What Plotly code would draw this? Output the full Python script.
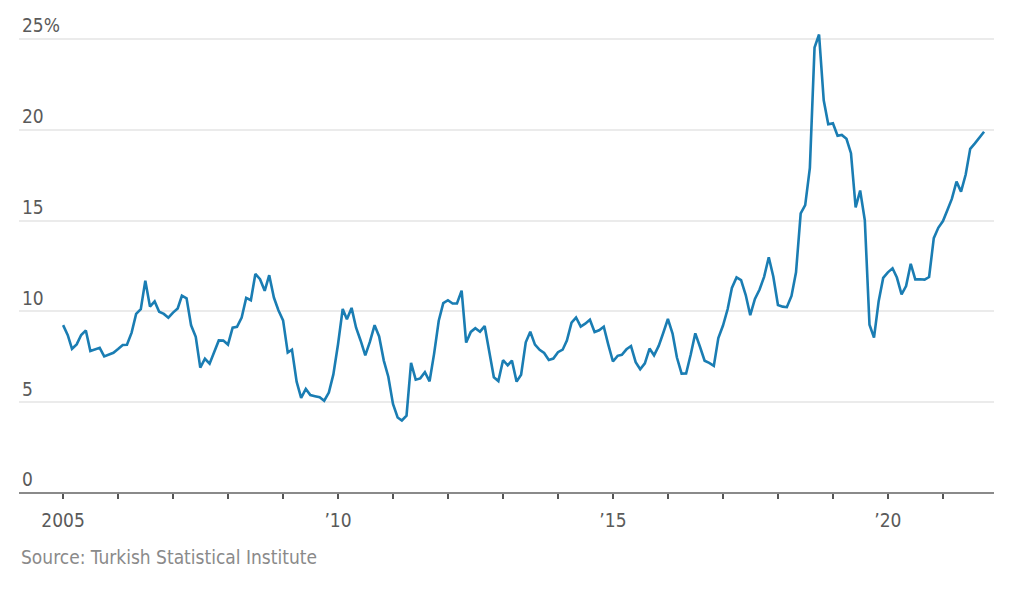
import plotly.graph_objects as go
import pandas as pd

# Annual consumer-price inflation, Turkey, monthly (percent), Jan 2005 - Oct 2021
inflation_2005 = [9.24, 8.69, 7.94, 8.18, 8.70, 8.95, 7.82, 7.91, 7.99, 7.52, 7.61, 7.72]
inflation_2006 = [7.93, 8.15, 8.16, 8.83, 9.86, 10.12, 11.69, 10.26, 10.55, 9.98, 9.86, 9.65]
inflation_2007 = [9.93, 10.16, 10.86, 10.72, 9.23, 8.60, 6.90, 7.39, 7.12, 7.70, 8.40, 8.39]
inflation_2008 = [8.17, 9.10, 9.15, 9.66, 10.74, 10.61, 12.06, 11.77, 11.13, 11.99, 10.76, 10.06]
inflation_2009 = [9.50, 7.73, 7.89, 6.13, 5.24, 5.73, 5.39, 5.33, 5.27, 5.08, 5.53, 6.53]
inflation_2010 = [8.19, 10.13, 9.56, 10.19, 9.10, 8.37, 7.58, 8.33, 9.24, 8.62, 7.29, 6.40]
inflation_2011 = [4.90, 4.16, 3.99, 4.26, 7.17, 6.24, 6.31, 6.65, 6.15, 7.66, 9.48, 10.45]
inflation_2012 = [10.61, 10.43, 10.43, 11.14, 8.28, 8.87, 9.07, 8.88, 9.19, 7.80, 6.37, 6.16]
inflation_2013 = [7.31, 7.03, 7.29, 6.13, 6.51, 8.30, 8.88, 8.17, 7.88, 7.71, 7.32, 7.40]
inflation_2014 = [7.75, 7.89, 8.39, 9.38, 9.66, 9.16, 9.32, 9.54, 8.86, 8.96, 9.15, 8.17]
inflation_2015 = [7.24, 7.55, 7.61, 7.91, 8.09, 7.20, 6.81, 7.14, 7.95, 7.58, 8.10, 8.81]
inflation_2016 = [9.58, 8.78, 7.46, 6.57, 6.58, 7.64, 8.79, 8.05, 7.28, 7.16, 7.00, 8.53]
inflation_2017 = [9.22, 10.13, 11.29, 11.87, 11.72, 10.90, 9.79, 10.68, 11.20, 11.90, 12.98, 11.92]
inflation_2018 = [10.35, 10.26, 10.23, 10.85, 12.15, 15.39, 15.85, 17.90, 24.52, 25.24, 21.62, 20.30]
inflation_2019 = [20.35, 19.67, 19.71, 19.50, 18.71, 15.72, 16.65, 15.01, 9.26, 8.55, 10.56, 11.84]
inflation_2020 = [12.15, 12.37, 11.86, 10.94, 11.39, 12.62, 11.76, 11.77, 11.75, 11.89, 14.03, 14.60]
inflation_2021 = [14.97, 15.61, 16.19, 17.14, 16.59, 17.53, 18.95, 19.25, 19.58, 19.89]

values = (inflation_2005 + inflation_2006 + inflation_2007 + inflation_2008 + inflation_2009
          + inflation_2010 + inflation_2011 + inflation_2012 + inflation_2013 + inflation_2014
          + inflation_2015 + inflation_2016 + inflation_2017 + inflation_2018 + inflation_2019
          + inflation_2020 + inflation_2021)
months = pd.date_range("2005-01-01", periods=len(values), freq="MS")

year_ticks = [f"{y}-01-01" for y in range(2005, 2022)]
year_labels = ["2005", "", "", "", "", "\u201910", "", "", "", "", "\u201915", "", "", "", "", "\u201920", ""]

y_ticks = [0, 5, 10, 15, 20, 25]
y_labels = ["0", "5", "10", "15", "20", "25%"]

FONT = "DejaVu Sans Condensed, Open Sans, sans-serif"

fig = go.Figure()

fig.add_trace(go.Scatter(
    x=months,
    y=values,
    mode="lines",
    line=dict(color="#1a7db3", width=2.6),
    hovertemplate="%{x|%b %Y}: %{y:.2f}%<extra></extra>",
    showlegend=False
))

# the page body adds an 8px offset, so margins are trimmed to compensate
fig.update_layout(
    width=1024,
    height=589,
    margin=dict(l=11, r=38, t=0, b=104),
    paper_bgcolor="white",
    plot_bgcolor="white",
    font=dict(family=FONT, size=19, color="#5a5a5a"),
    xaxis=dict(
        type="date",
        range=["2004-03-14", "2021-12-06"],
        tickvals=year_ticks,
        ticktext=year_labels,
        ticks="outside",
        ticklen=5,
        tickwidth=1.5,
        tickcolor="#555555",
        ticklabelstandoff=5,
        showgrid=False,
        showline=False,
        zeroline=False,
        automargin=False,
        tickfont=dict(family=FONT, size=19, color="#5a5a5a"),
    ),
    yaxis=dict(
        range=[0, 26.7],
        tickvals=y_ticks,
        ticktext=y_labels,
        ticklabelposition="inside top",
        showgrid=True,
        gridcolor="#ebebeb",
        gridwidth=2,
        zeroline=True,
        zerolinecolor="#8a8a8a",
        zerolinewidth=2,
        showline=False,
        ticks="",
        automargin=False,
        tickfont=dict(family=FONT, size=19, color="#5a5a5a"),
    ),
)

fig.add_annotation(
    text="Source: Turkish Statistical Institute",
    xref="paper", yref="paper",
    x=0.0, y=-0.132,
    xanchor="left", yanchor="middle",
    showarrow=False,
    font=dict(family=FONT, size=19, color="#8a8a8a"),
)

fig.write_html("out.html")
